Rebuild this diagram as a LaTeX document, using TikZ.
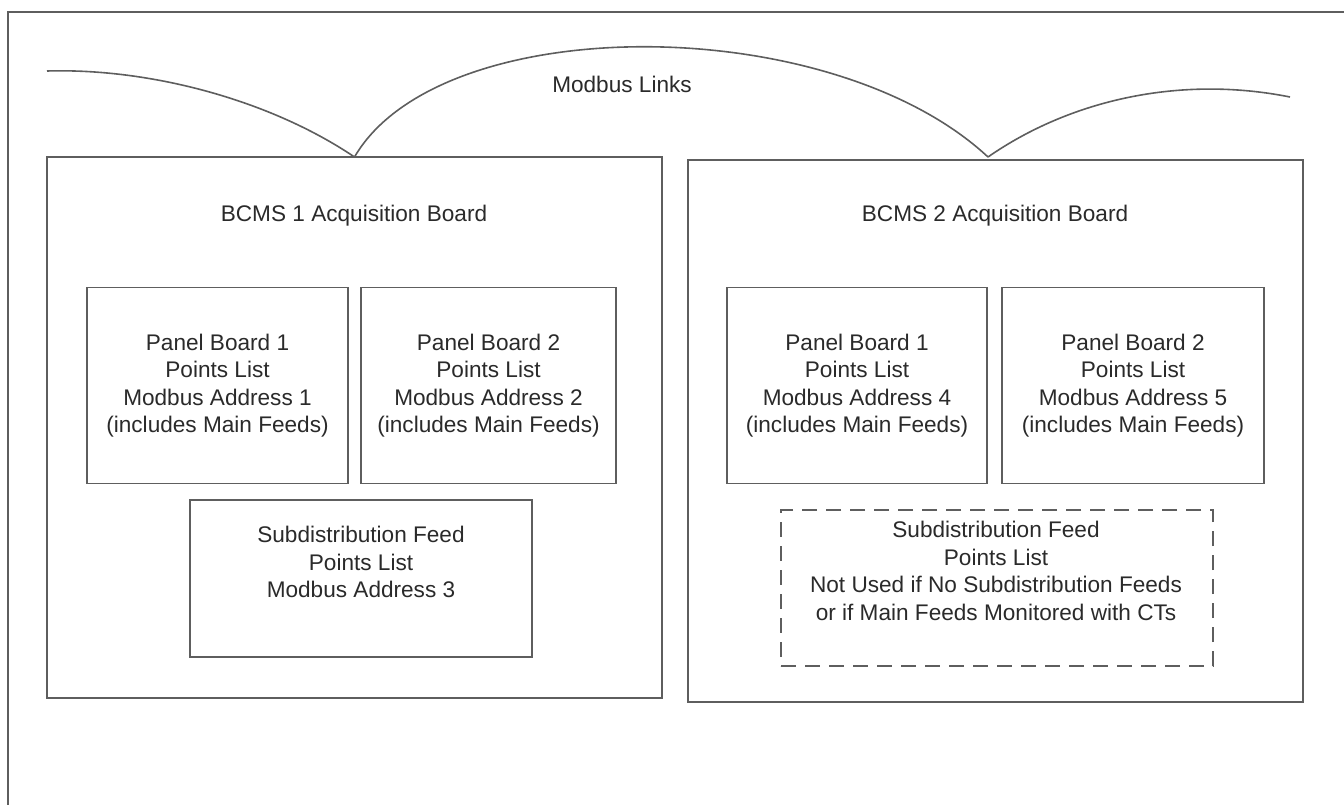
\documentclass[tikz,border=0pt]{standalone}
\usepackage{fontspec}
\setmainfont{Liberation Sans}
\definecolor{linegray}{HTML}{5E5E5E}
\definecolor{txtgray}{HTML}{2A2A2A}
\begin{document}
\begin{tikzpicture}[x=1pt,y=-1pt,
  box/.style={draw=linegray, line width=1.8pt, inner sep=0pt, outer sep=0pt},
  dashbox/.style={box, dash pattern=on 15pt off 9pt},
  txt/.style={text=txtgray, align=center, inner sep=0pt, font=\fontsize{22.6}{27.5}\selectfont},
  link/.style={draw=linegray, line width=1.6pt},
  frame/.style={draw=linegray, line width=2pt}]
\useasboundingbox (0,0) rectangle (1344,805);
% outer frame (cropped)
\draw[frame] (8,806) -- (8,12) -- (1345,12);

% boards
\node[box, minimum width=615pt, minimum height=541pt] (b1) at (354.5,427.5) {};
\node[box, minimum width=615pt, minimum height=542pt] (b2) at (995.5,431) {};

\node[txt, anchor=base] (t1) at (354,222) {BCMS 1 Acquisition Board};
\node[txt, anchor=base] (t2) at (995,222) {BCMS 2 Acquisition Board};

% left board contents
\node[box, minimum width=261pt, minimum height=196pt] (p11) at (217.5,385.5) {};
\node[txt] (p11t) at (p11.center) {Panel Board 1\\Points List\\Modbus Address 1\\(includes Main Feeds)};
\node[box, minimum width=255pt, minimum height=196pt] (p12) at (488.5,385.5) {};
\node[txt] (p12t) at (p12.center) {Panel Board 2\\Points List\\Modbus Address 2\\(includes Main Feeds)};
\node[box, minimum width=342pt, minimum height=157pt] (s1) at (361,578.5) {};
\node[txt] (s1t) at (361,562) {Subdistribution Feed\\Points List\\Modbus Address 3};

% right board contents
\node[box, minimum width=260pt, minimum height=196pt] (p21) at (857,385.5) {};
\node[txt] (p21t) at (p21.center) {Panel Board 1\\Points List\\Modbus Address 4\\(includes Main Feeds)};
\node[box, minimum width=262pt, minimum height=196pt] (p22) at (1133,385.5) {};
\node[txt] (p22t) at (p22.center) {Panel Board 2\\Points List\\Modbus Address 5\\(includes Main Feeds)};
\node[dashbox, minimum width=432pt, minimum height=156pt] (s2) at (997,588) {};
\node[txt] (s2t) at (996,571) {Subdistribution Feed\\Points List\\Not Used if No Subdistribution Feeds\\or if Main Feeds Monitored with CTs};

% Modbus links
\coordinate (lstart) at (47,71);
\coordinate (lend) at (1290,97);
\coordinate (j2) at (988,157);
\node[txt, anchor=base] (ml) at (622,93) {Modbus Links};
\draw[link] (lstart) .. controls (150,68) and (270,100) .. (b1.north);
\draw[link] (b1.north) .. controls (440,10) and (830,10) .. (j2);
\draw[link] (j2) .. controls (1070,100) and (1180,75) .. (lend);
\end{tikzpicture}
\end{document}
